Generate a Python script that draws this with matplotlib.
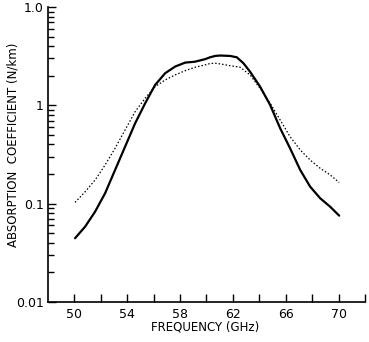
"""
Absorption coefficient vs frequency, log scale, two curves.
"""
import matplotlib

matplotlib.use("Agg")

import matplotlib.pyplot as plt
from matplotlib.ticker import FixedLocator, NullFormatter

# solid curve
solid_freq = [50.05, 50.81, 51.57, 52.33, 53.08, 53.84, 54.6, 55.36, 56.11,
              56.87, 57.63, 58.39, 59.14, 59.9, 60.27, 60.66, 61.03, 61.79,
              62.3, 62.8, 63.3, 64.06, 64.82, 65.58, 66.33, 67.1, 67.85,
              68.61, 69.37, 70.05]
solid_abs = [0.0445, 0.0583, 0.083, 0.128, 0.220, 0.38, 0.657, 1.05, 1.61,
             2.12, 2.48, 2.72, 2.78, 2.95, 3.08, 3.18, 3.21, 3.18,
             3.08, 2.68, 2.20, 1.55, 1.01, 0.585, 0.366, 0.220, 0.149,
             0.1135, 0.093, 0.0755]

# dotted curve
dotted_freq = [50.05, 50.81, 51.57, 52.33, 53.08, 53.84, 54.6, 55.36, 56.11,
               56.87, 57.63, 58.39, 59.14, 59.9, 60.27, 60.66, 61.03, 61.79,
               62.55, 63.3, 64.06, 64.82, 65.58, 66.33, 67.1, 67.85, 68.61,
               69.37, 70.05]
dotted_abs = [0.103, 0.132, 0.174, 0.248, 0.366, 0.562, 0.863, 1.18, 1.55,
              1.81, 2.04, 2.25, 2.44, 2.58, 2.66, 2.68, 2.64, 2.53,
              2.44, 2.04, 1.49, 1.05, 0.71, 0.48, 0.352, 0.278, 0.229,
              0.196, 0.164]

x_ticks = list(range(50, 73, 2))
x_labeled = [50, 54, 58, 62, 66, 70]
y_ticks = [0.01, 0.1, 1, 10]
y_ticklabels = ["0.01", "0.1", "1", "1.0"]
y_minor = [m * d for d in (0.01, 0.1, 1) for m in range(2, 10)]

fig = plt.figure(figsize=(3.69, 3.42), dpi=100)
ax = fig.add_axes([0.130, 0.117, 0.859, 0.8625])

ax.plot(solid_freq, solid_abs, color="black", lw=1.6, solid_capstyle="round")
ax.plot(dotted_freq, dotted_abs, color="black", lw=0.9, ls=(0, (1.2, 1.6)))

ax.set_yscale("log")
ax.set_xlim(48.0, 72.0)
ax.set_ylim(0.01, 10)

ax.xaxis.set_major_locator(FixedLocator(x_ticks))
ax.set_xticklabels([str(v) if v in x_labeled else "" for v in x_ticks])
ax.yaxis.set_major_locator(FixedLocator(y_ticks))
ax.set_yticklabels(y_ticklabels)
ax.yaxis.set_minor_locator(FixedLocator(y_minor))
ax.yaxis.set_minor_formatter(NullFormatter())

ax.tick_params(axis="both", which="major", direction="in", length=6,
               width=1.0, labelsize=9, pad=4)
ax.tick_params(axis="y", which="minor", direction="in", length=4,
               width=1.0, left=True)
ax.tick_params(axis="y", which="major", pad=3)

for side in ("top", "right"):
    ax.spines[side].set_visible(False)
for side in ("left", "bottom"):
    ax.spines[side].set_linewidth(1.2)

fig.text(0.556, 0.025, "FREQUENCY (GHz)", ha="center", va="bottom", fontsize=8.5)
fig.text(0.018, 0.576, "ABSORPTION  COEFFICIENT (N/km)", rotation=90,
         ha="left", va="center", fontsize=8.5)

fig.savefig("out.png", dpi=100)
